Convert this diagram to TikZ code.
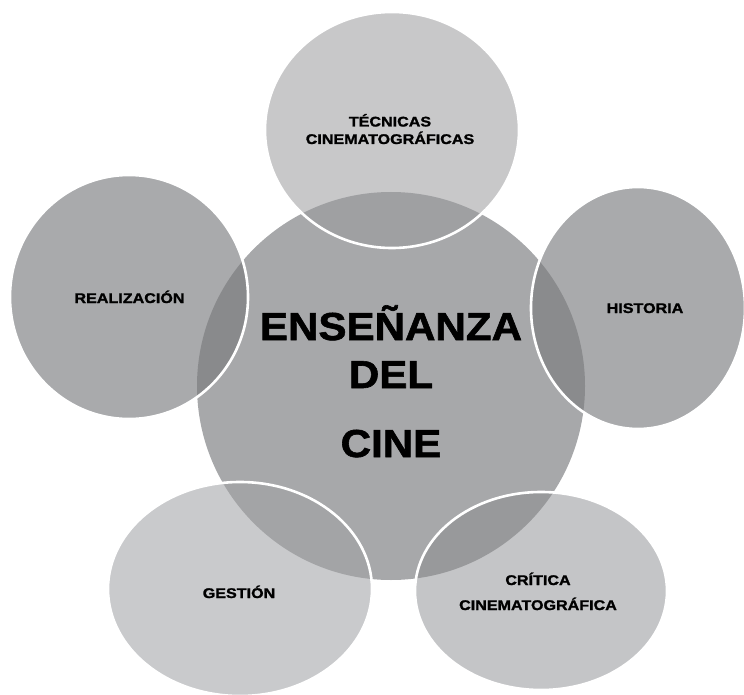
\documentclass[tikz,border=0pt]{standalone}
\usepackage{fontspec}
\setmainfont{Liberation Sans}
\newfontfamily\labfont{Liberation Sans}[FakeStretch=1.15, FakeBold=1.5]
\newfontfamily\bigfont{Liberation Sans}[FakeStretch=1.08, FakeBold=1.5]
\definecolor{cmain}{HTML}{A7A8AA}
\definecolor{ctop}{HTML}{C8C8C9}
\definecolor{otop}{HTML}{9FA0A2}
\definecolor{cleft}{HTML}{A9AAAC}
\definecolor{oleft}{HTML}{898A8C}
\definecolor{cright}{HTML}{A9AAAC}
\definecolor{oright}{HTML}{8A8B8D}
\definecolor{cbl}{HTML}{C9CACC}
\definecolor{obl}{HTML}{A3A4A6}
\definecolor{cbr}{HTML}{C4C5C7}
\definecolor{obr}{HTML}{98999B}
\tikzset{
  ring/.style={draw=white, line width=2.6pt},
  lab/.style={font=\labfont\bfseries\fontsize{14}{17.5}\selectfont, align=center, text=black, anchor=base, inner sep=0pt},
  biglab/.style={font=\bigfont\bfseries\fontsize{39}{48}\selectfont, align=center, text=black, anchor=base, inner sep=0pt}
}
\begin{document}
\begin{tikzpicture}[x=1pt,y=-1pt]
\useasboundingbox (0,0) rectangle (744,695);
\clip (0,0) rectangle (744,695);
% central circle
\fill[cmain] (391,386) circle (194);
% satellites
\fill[ctop] (392,130) ellipse (127 and 118);
\fill[cleft] (129,297) ellipse (119 and 122);
\fill[cright] (638,308) ellipse (107 and 121);
\fill[cbl] (240,589) ellipse (132 and 107);
\fill[cbr] (541,591) ellipse (126 and 99);
% overlaps
\begin{scope}
\clip (391,386) circle (194);
\fill[otop] (392,130) ellipse (127 and 118);
\fill[oleft] (129,297) ellipse (119 and 122);
\fill[oright] (638,308) ellipse (107 and 121);
\fill[obl] (240,589) ellipse (132 and 107);
\fill[obr] (541,591) ellipse (126 and 99);
\end{scope}
% white rims
\draw[ring] (392,130) ellipse (127 and 118);
\draw[ring] (129,297) ellipse (119 and 122);
\draw[ring] (638,308) ellipse (107 and 121);
\draw[ring] (240,589) ellipse (132 and 107);
\draw[ring] (541,591) ellipse (126 and 99);
% labels (base anchor = baseline of last line)
\node[biglab] (main) at (391,457) {ENSEÑANZA\\DEL\\[21pt]CINE};
\node[lab] (tec) at (390,144) {TÉCNICAS\\CINEMATOGRÁFICAS};
\node[lab] (rea) at (129.5,303) {REALIZACIÓN};
\node[lab] (his) at (645,313) {HISTORIA};
\node[lab] (ges) at (239,598) {GESTIÓN};
\node[lab, font=\labfont\bfseries\fontsize{14}{25}\selectfont] (cri) at (538,610) {CRÍTICA\\CINEMATOGRÁFICA};
\end{tikzpicture}
\end{document}
